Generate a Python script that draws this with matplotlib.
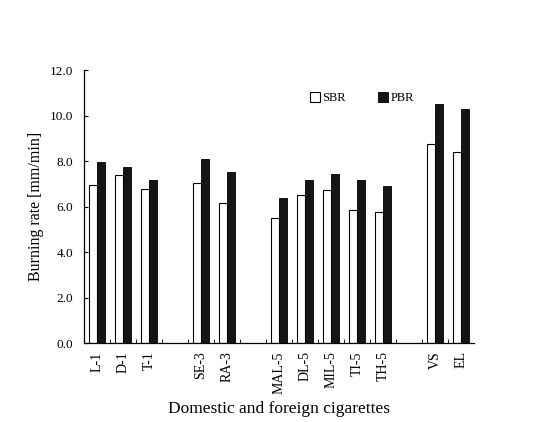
import numpy as np
import matplotlib
matplotlib.use("Agg")
import matplotlib.pyplot as plt

plt.rcParams["font.family"] = ["Liberation Serif", "DejaVu Serif"]

# cigarette brands, grouped; None marks an empty slot between groups
brands = ["L-1", "D-1", "T-1", None, "SE-3", "RA-3", None,
          "MAL-5", "DL-5", "MIL-5", "TI-5", "TH-5", None, "VS", "EL"]
sbr = [6.95, 7.37, 6.78, None, 7.02, 6.17, None,
       5.48, 6.51, 6.71, 5.87, 5.76, None, 8.73, 8.38]
pbr = [7.96, 7.72, 7.16, None, 8.09, 7.50, None,
       6.37, 7.16, 7.41, 7.18, 6.89, None, 10.49, 10.27]

slots = np.arange(len(brands))
keep = [i for i, b in enumerate(brands) if b is not None]
x = slots[keep]
s_vals = [sbr[i] for i in keep]
p_vals = [pbr[i] for i in keep]
labels = [brands[i] for i in keep]

fig = plt.figure(figsize=(5.36, 4.22), dpi=100)
ax = fig.add_axes([0.157, 0.187, 0.727, 0.647])

w = 0.3
ax.bar(x - w / 2, s_vals, w, color="white", edgecolor="black", lw=0.8, label="SBR")
ax.bar(x + w / 2, p_vals, w, color="#151515", edgecolor="black", lw=0.6, label="PBR")

ax.set_xlim(-0.5, len(brands) - 0.5)
ax.set_ylim(0, 12)
ax.set_yticks(np.arange(0, 12.1, 2))
ax.set_yticklabels([f"{v:.1f}" for v in np.arange(0, 12.1, 2)], fontsize=9.5)
ax.set_xticks(x)
ax.set_xticklabels(labels, rotation=90, fontsize=10)
ax.set_xticks(slots - 0.5, minor=True)
ax.tick_params(axis="x", which="major", length=0, pad=6)
ax.tick_params(axis="x", which="minor", length=3, direction="in")
ax.tick_params(axis="y", length=3, direction="in", pad=8)

for side in ("top", "right"):
    ax.spines[side].set_visible(False)
for side in ("left", "bottom"):
    ax.spines[side].set_linewidth(0.9)

ax.set_ylabel("Burning rate [mm/min]", fontsize=11.5, labelpad=4)
ax.set_xlabel("Domestic and foreign cigarettes", fontsize=12.5, labelpad=5)

ax.legend(loc="upper left", bbox_to_anchor=(0.55, 0.96), ncol=2, frameon=False,
          fontsize=9, handlelength=0.8, handleheight=0.8, handletextpad=0.2,
          columnspacing=2.6)

fig.savefig("out.png", dpi=100)
